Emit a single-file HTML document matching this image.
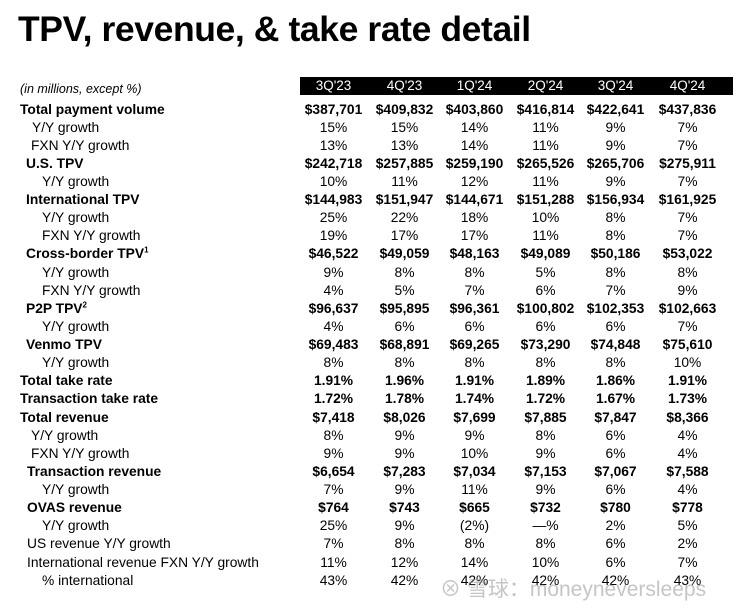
<!DOCTYPE html>
<html><head><meta charset="utf-8"><style>
body{margin:0;width:733px;height:611px;background:#fff;overflow:hidden;font-family:"Liberation Sans",sans-serif;color:#000;position:relative}
#title{position:absolute;left:18px;top:9px;font-size:35.5px;font-weight:bold;letter-spacing:-0.4px;margin:0}
#hdr{position:absolute;left:300px;top:77px;width:433px;height:18px;background:#000}
.h{position:absolute;top:0;width:71px;text-align:center;color:#fff;font-size:13.5px;line-height:18px}
.r{position:absolute;left:0;width:733px;height:18px;font-size:13.8px;line-height:18px}
.l{position:absolute;white-space:nowrap}
.v{position:absolute;width:71px;text-align:center;white-space:nowrap}
.b{font-weight:bold}
sup{font-size:8px;line-height:0}
#wm{position:absolute;left:440px;top:573px;font-size:21px;white-space:nowrap;color:rgba(150,150,150,0.55);font-family:"Liberation Sans","Noto Sans CJK SC",sans-serif}
</style></head><body>
<h1 id="title">TPV, revenue, &amp; take rate detail</h1>
<div class="r" style="top:80px"><span class="l" style="left:20px;font-style:italic;font-size:12.5px">(in millions, except %)</span></div>
<div id="hdr"></div>
<div id="rows"></div>
<div id="wm">⊗ 雪球：moneyneversleeps</div>
<script>
const quarters=["3Q'23","4Q'23","1Q'24","2Q'24","3Q'24","4Q'24"];
const labels=["Total payment volume","Y/Y growth","FXN Y/Y growth","U.S. TPV","Y/Y growth","International TPV","Y/Y growth","FXN Y/Y growth","Cross-border TPV<sup>1</sup>","Y/Y growth","FXN Y/Y growth","P2P TPV<sup>2</sup>","Y/Y growth","Venmo TPV","Y/Y growth","Total take rate","Transaction take rate","Total revenue","Y/Y growth","FXN Y/Y growth","Transaction revenue","Y/Y growth","OVAS revenue","Y/Y growth","US revenue Y/Y growth","International revenue FXN Y/Y growth","% international"];
const indents=[20,32,31,26,42,26,42,42,26,42,42,26,42,26,42,20,20,20,31,31,27,42,27,42,27,27,42];
const bold=[1,0,0,1,0,1,0,0,1,0,0,1,0,1,0,1,1,1,0,0,1,0,1,0,0,0,0];
const values=[
["$387,701","$409,832","$403,860","$416,814","$422,641","$437,836"],
["15%","15%","14%","11%","9%","7%"],
["13%","13%","14%","11%","9%","7%"],
["$242,718","$257,885","$259,190","$265,526","$265,706","$275,911"],
["10%","11%","12%","11%","9%","7%"],
["$144,983","$151,947","$144,671","$151,288","$156,934","$161,925"],
["25%","22%","18%","10%","8%","7%"],
["19%","17%","17%","11%","8%","7%"],
["$46,522","$49,059","$48,163","$49,089","$50,186","$53,022"],
["9%","8%","8%","5%","8%","8%"],
["4%","5%","7%","6%","7%","9%"],
["$96,637","$95,895","$96,361","$100,802","$102,353","$102,663"],
["4%","6%","6%","6%","6%","7%"],
["$69,483","$68,891","$69,265","$73,290","$74,848","$75,610"],
["8%","8%","8%","8%","8%","10%"],
["1.91%","1.96%","1.91%","1.89%","1.86%","1.91%"],
["1.72%","1.78%","1.74%","1.72%","1.67%","1.73%"],
["$7,418","$8,026","$7,699","$7,885","$7,847","$8,366"],
["8%","9%","9%","8%","6%","4%"],
["9%","9%","10%","9%","6%","4%"],
["$6,654","$7,283","$7,034","$7,153","$7,067","$7,588"],
["7%","9%","11%","9%","6%","4%"],
["$764","$743","$665","$732","$780","$778"],
["25%","9%","(2%)","—%","2%","5%"],
["7%","8%","8%","8%","6%","2%"],
["11%","12%","14%","10%","6%","7%"],
["43%","42%","42%","42%","42%","43%"]];
const colX=[298,369,439,510,580,652];
const hdr=document.getElementById('hdr');
quarters.forEach((q,i)=>{const d=document.createElement('div');d.className='h';d.style.left=(colX[i]-300)+'px';d.textContent=q;


hdr.appendChild(d);});
const box=document.getElementById('rows');
labels.forEach((lab,r)=>{const row=document.createElement('div');row.className='r'+(bold[r]?' b':'');row.style.top=(100.5+r*18.12)+'px';


const l=document.createElement('span');l.className='l';l.style.left=indents[r]+'px';l.innerHTML=lab;


row.appendChild(l);
values[r].forEach((v,c)=>{const s=document.createElement('span');s.className='v';s.style.left=colX[c]+'px';s.textContent=v;


row.appendChild(s);});
box.appendChild(row);});
</script>
</body></html>
